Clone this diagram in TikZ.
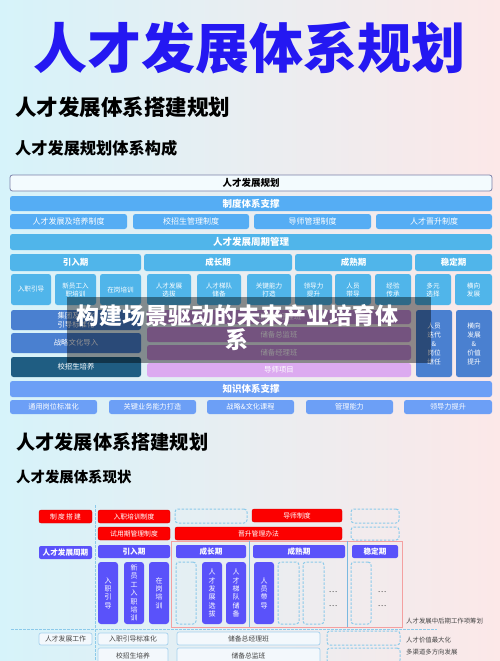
\documentclass[tikz,border=0pt]{standalone}
\usepackage{fontspec}
\setmainfont{Noto Sans CJK SC}
\newcommand\fsz[2]{\fontsize{#1pt}{#2pt}\selectfont}
\definecolor{cTitle}{HTML}{2418F2}
\definecolor{cBar}{HTML}{55ADF4}
\definecolor{cCyc}{HTML}{50B5EA}
\definecolor{cMid}{HTML}{4A80D0}
\definecolor{cTeal}{HTML}{1F5D82}
\definecolor{cPur}{HTML}{C890DC}
\definecolor{cPurL}{HTML}{DCAAF0}
\definecolor{cKn}{HTML}{6C9FF6}
\definecolor{cRed}{HTML}{FC0000}
\definecolor{cRedD}{HTML}{D00000}
\definecolor{cInd}{HTML}{5A52FA}
\definecolor{cLtF}{HTML}{F3F8FC}
\definecolor{cLtD}{HTML}{A6D2EE}
\definecolor{cDash}{HTML}{8CCAEA}
\definecolor{cHdrD}{HTML}{7A80A8}
\definecolor{cBgL}{HTML}{D6F3FA}
\definecolor{cBgR}{HTML}{FCE8E8}
\definecolor{cTxt}{HTML}{444444}
\definecolor{cRedLine}{HTML}{F4A0A0}
\definecolor{cVLine}{HTML}{7AB8E0}
\newcommand\bx[7]{\node[#6,minimum width={(#4-#2)*1pt},minimum height={(#5-#3)*1pt}] (#1) at ({(#2+#4)/2},{(#3+#5)/2}) {#7};}
\tikzset{
  base/.style={inner sep=0pt, outer sep=0pt, rounded corners=2.5pt, align=center},
  hdrbox/.style={base, fill=white!70!cBgL, draw=cHdrD, line width=0.8pt, font=\fsz{9.5}{11}\bfseries},
  barbox/.style={base, fill=cBar, text=white, font=\fsz{9.5}{11}\bfseries},
  subbox/.style={base, fill=cBar, text=white, font=\fsz{8}{9.5}},
  cycbar/.style={base, fill=cCyc, text=white, font=\fsz{9.5}{11}\bfseries},
  phbox/.style={base, fill=cCyc, text=white, font=\fsz{8.5}{10}\bfseries},
  smbox/.style={base, fill=cCyc, text=white, font=\fsz{6.6}{8}},
  midbox/.style={base, fill=cMid, text=white, font=\fsz{7.4}{8.6}},
  tealbox/.style={base, fill=cTeal, text=white, font=\fsz{7.4}{8.6}},
  purbox/.style={base, fill=cPur, text=white, font=\fsz{7.4}{8.6}},
  purlbox/.style={base, fill=cPurL, text=white, font=\fsz{7.4}{8.6}},
  tallbox/.style={base, fill=cMid, text=white, font=\fsz{6.7}{9}},
  knbar/.style={base, fill=cKn, text=white, font=\fsz{9.5}{11}\bfseries},
  knbox/.style={base, fill=cKn, text=white, font=\fsz{7.2}{8.6}},
  redbox/.style={base, rounded corners=2pt, fill=cRed, draw=cRedD, line width=0.3pt, text=white, font=\fsz{6.8}{8}},
  indbox/.style={base, rounded corners=2pt, fill=cInd, text=white, font=\fsz{7.6}{9}\bfseries},
  vbox/.style={base, rounded corners=3pt, fill=cInd, text=white, font=\fsz{7}{8.4}},
  ltbox/.style={base, rounded corners=2pt, fill=cLtF, draw=cLtD, line width=0.7pt, text=cTxt, font=\fsz{6.8}{8}},
  dbox/.style={base, rounded corners=3pt, draw=cDash, dashed, dash pattern=on 2.5pt off 1.5pt, line width=1pt},
  dline/.style={draw=cDash, dash pattern=on 2.5pt off 1.5pt, line width=0.9pt},
  note/.style={inner sep=0pt, anchor=west, text=cTxt, font=\fsz{6.4}{7.5}},
  dots/.style={inner sep=0pt, text=cTxt, font=\fsz{8}{9}}
}
\begin{document}
\begin{tikzpicture}[x=1pt,y=-1pt]
\useasboundingbox (0,0) rectangle (500,661);
\clip (0,0) rectangle (500,661);
\shade[left color=cBgL, right color=cBgR] (0,0) rectangle (500,661);
% titles
\node[inner sep=0pt, text=cTitle, font=\fsz{54}{60}\bfseries] (title) at (249,48) {人才发展体系规划};
\node[inner sep=0pt, anchor=west, font=\fsz{21.5}{24}\bfseries] (h1) at (15,107.5) {人才发展体系搭建规划};
\node[inner sep=0pt, anchor=west, font=\fsz{16.2}{18}\bfseries] (h2) at (15,148) {人才发展规划体系构成};
% top diagram
\bx{hdr}{10}{175}{492}{191}{hdrbox}{人才发展规划}
\bx{zd}{10}{196}{492}{211}{barbox}{制度体系支撑}
\bx{zd1}{10}{214}{127}{229}{subbox}{人才发展及培养制度}
\bx{zd2}{133}{214}{249}{229}{subbox}{校招生管理制度}
\bx{zd3}{254}{214}{371}{229}{subbox}{导师管理制度}
\bx{zd4}{376}{214}{492}{229}{subbox}{人才晋升制度}
\bx{zq}{10}{234}{492}{250}{cycbar}{人才发展周期管理}
\bx{p1}{10}{254}{141}{271}{phbox}{引入期}
\bx{p2}{144}{254}{292}{271}{phbox}{成长期}
\bx{p3}{295}{254}{412}{271}{phbox}{成熟期}
\bx{p4}{415}{254}{492}{271}{phbox}{稳定期}
\bx{s1}{11}{274}{51}{305}{smbox}{入职引导}
\bx{s2}{55}{274}{96}{305}{smbox}{新员工入\\职培训}
\bx{s3}{100}{274}{141}{305}{smbox}{在岗培训}
\bx{s4}{147}{274}{191}{305}{smbox}{人才发展\\选拔}
\bx{s5}{197}{274}{241}{305}{smbox}{人才梯队\\储备}
\bx{s6}{247}{274}{291}{305}{smbox}{关键能力\\打造}
\bx{s7}{295}{274}{332}{305}{smbox}{领导力\\提升}
\bx{s8}{335}{274}{371}{305}{smbox}{人员\\带导}
\bx{s9}{375}{274}{411}{305}{smbox}{经验\\传承}
\bx{s10}{415}{274}{451}{305}{smbox}{多元\\选择}
\bx{s11}{455}{274}{492}{305}{smbox}{横向\\发展}
\bx{l1}{11}{310}{141}{330}{midbox}{集团及文化\\引导标准化}
\bx{l2}{11}{333}{141}{353}{midbox}{战略文化导入}
\bx{l3}{11}{357}{141}{377}{tealbox}{校招生培养}
\bx{m1}{147}{310}{411}{324}{purbox}{储备总经理班}
\bx{m2}{147}{327}{411}{342}{purbox}{储备总监班}
\bx{m3}{147}{345}{411}{360}{purbox}{储备经理班}
\bx{m4}{147}{363}{411}{377}{purlbox}{导师项目}
\bx{r1}{416}{310}{452}{377}{tallbox}{人员\\迭代\\\&\\岗位\\继任}
\bx{r2}{456}{310}{492}{377}{tallbox}{横向\\发展\\\&\\价值\\提升}
\bx{zs}{10}{381}{492}{397}{knbar}{知识体系支撑}
\bx{k1}{10}{400}{97}{414}{knbox}{通用岗位标准化}
\bx{k2}{109}{400}{196}{414}{knbox}{关键业务能力打造}
\bx{k3}{207}{400}{294}{414}{knbox}{战略\&文化课程}
\bx{k4}{306}{400}{393}{414}{knbox}{管理能力}
\bx{k5}{404}{400}{492}{414}{knbox}{领导力提升}
% overlay
\node[inner sep=0pt, outer sep=0pt, fill=black, fill opacity=0.42, minimum width=364pt, minimum height=66pt] (ov) at (249,330) {};
\node[inner sep=0pt, text=white, align=center, font=\fsz{23}{24}\bfseries] (ovt) at (237,328) {构建场景驱动的未来产业培育体\\系};
% second section
\node[inner sep=0pt, anchor=west, font=\fsz{19.2}{22}\bfseries] (h3) at (16,442.5) {人才发展体系搭建规划};
\node[inner sep=0pt, anchor=west, font=\fsz{14.4}{16}\bfseries] (h4) at (16,477.5) {人才发展体系现状};
% frame lines
\coordinate (vt) at (95,505);
\coordinate (vb) at (95,661);
\draw[dline] (vt) -- (vb);
\coordinate (hl) at (11,629);
\coordinate (hr) at (437,629);
\draw[dline] (hl) -- (hr);
\node[inner sep=0pt, outer sep=0pt, draw=cRedLine, line width=0.9pt, minimum width=231pt, minimum height=86pt] (redf) at (286.5,584) {};
\coordinate (va1) at (249,541);
\coordinate (vb1) at (249,627);
\coordinate (va2) at (347.5,541);
\coordinate (vb2) at (347.5,627);
\draw[cVLine, line width=0.7pt] (va1) -- (vb1);
\draw[cVLine, line width=0.7pt] (va2) -- (vb2);
% rows
\bx{zdj}{39}{510}{92}{523}{redbox}{制\,度\,搭\,建}
\bx{rz1}{98}{510}{170}{523}{redbox}{入职培训制度}
\bx{dz1}{175}{509}{247}{523}{dbox}{}
\bx{rz2}{252}{509}{342}{522}{redbox}{导师制度}
\bx{dz2}{351}{509}{399}{523}{dbox}{}
\bx{rz3}{98}{527}{170}{540}{redbox}{试用期管理制度}
\bx{rz4}{175}{527}{342}{540}{redbox}{晋升管理办法}
\bx{dz3}{351}{527}{399}{540}{dbox}{}
\bx{zq2}{39}{546}{92}{559}{indbox}{人才发展周期}
\bx{q1}{98}{545}{170}{558}{indbox}{引入期}
\bx{q2}{176}{545}{246}{558}{indbox}{成长期}
\bx{q3}{253}{545}{345}{558}{indbox}{成熟期}
\bx{q4}{352}{545}{398}{558}{indbox}{稳定期}
\bx{v1}{98}{562}{118}{624}{vbox}{入\\职\\引\\导}
\bx{v2}{124}{562}{144}{624}{vbox}{新\\员\\工\\入\\职\\培\\训}
\bx{v3}{149}{562}{169}{624}{vbox}{在\\岗\\培\\训}
\bx{vd1}{176}{562}{196}{624}{dbox}{}
\bx{v4}{202}{562}{222}{624}{vbox}{人\\才\\发\\展\\选\\拔}
\bx{v5}{226}{562}{246}{624}{vbox}{人\\才\\梯\\队\\储\\备}
\bx{v6}{254}{562}{274}{624}{vbox}{人\\员\\带\\导}
\bx{vd2}{278}{562}{299}{624}{dbox}{}
\bx{vd3}{303}{562}{324}{624}{dbox}{}
\bx{vd4}{351}{562}{371}{624}{dbox}{}
\node[dots] (dt1) at (333,592) {…};
\node[dots] (dt2) at (333,606) {…};
\node[dots] (dt3) at (382,592) {…};
\node[dots] (dt4) at (382,606) {…};
\node[note] (n1) at (406,621) {人才发展中后期工作项筹划};
\bx{gz}{39}{633}{92}{645}{ltbox}{人才发展工作}
\bx{b1}{98}{633}{168}{645}{ltbox}{入职引导标准化}
\bx{b2}{177}{632}{320}{645}{ltbox}{储备总经理班}
\bx{bd1}{327}{631}{400}{645}{dbox}{}
\node[note] (n2) at (406,640) {人才价值最大化};
\bx{b3}{98}{648}{168}{663}{ltbox}{校招生培养}
\bx{b4}{177}{648}{320}{663}{ltbox}{储备总监班}
\bx{bd2}{327}{648}{400}{663}{dbox}{}
\node[note] (n3) at (406,652) {多渠道多方向发展};
\end{tikzpicture}
\end{document}
